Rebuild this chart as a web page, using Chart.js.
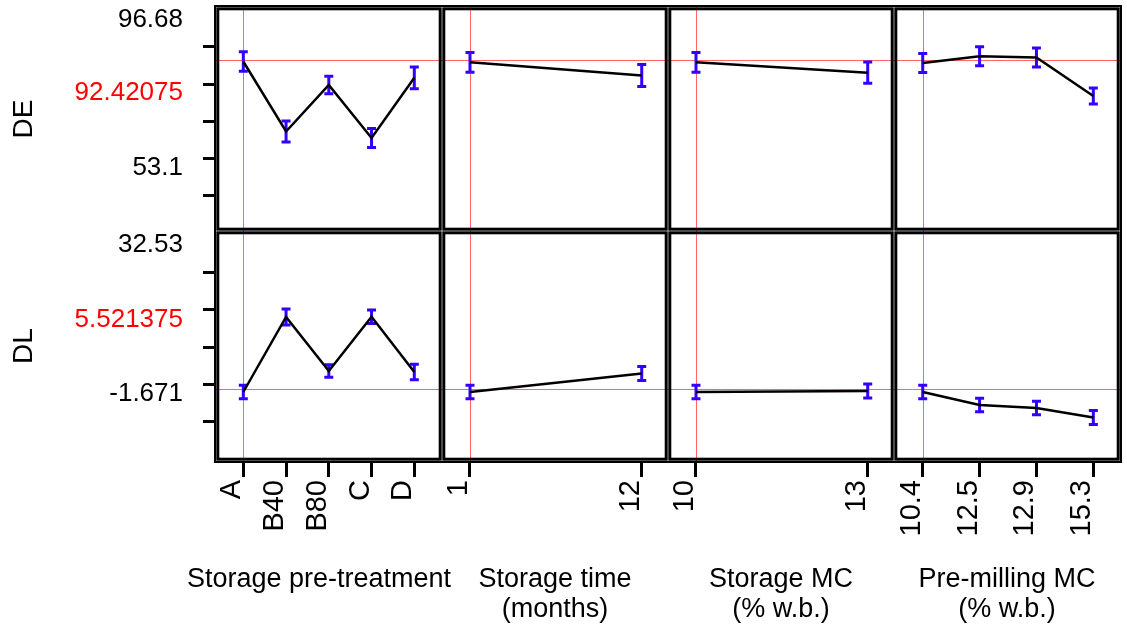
<!DOCTYPE html>
<html>
<head>
<meta charset="utf-8">
<script src="https://cdn.jsdelivr.net/npm/chart.js@4.4.0/dist/chart.umd.min.js"></script>
<style>
  html, body { margin: 0; padding: 0; background: #fff; }
</style>
</head>
<body>
<canvas id="profiler" width="1127" height="630"></canvas>
<script>
// factor levels (x tick labels)
const pretreatLevels = ['A', 'B40', 'B80', 'C', 'D'];
const timeLevels = ['1', '12'];
const storageMcLevels = ['10', '13'];
const premillMcLevels = ['10.4', '12.5', '12.9', '15.3'];
// current setting of each factor (red vertical line)
const currentLevels = ['A', '1', '10', '10.4'];

const factorTitles = [
    ['Storage pre-treatment', ''],
    ['Storage time', '(months)'],
    ['Storage MC', '(% w.b.)'],
    ['Pre-milling MC', '(% w.b.)']
];

// DE: predicted value and half width of the confidence bar, per factor
const dePretreat = [91.87, 66.40, 83.32, 64.04, 85.93];
const dePretreatErr = [3.53, 3.82, 3.17, 3.46, 3.93];
const deTime = [91.58, 86.78];
const deTimeErr = [3.58, 4.00];
const deStorageMc = [91.58, 87.80];
const deStorageMcErr = [3.58, 3.87];
const dePremillMc = [91.33, 93.80, 93.33, 79.32];
const dePremillMcErr = [3.42, 3.47, 3.42, 2.95];

// DL
const dlPretreat = [4.96, 19.05, 8.90, 19.10, 8.72];
const dlPretreatErr = [1.28, 1.50, 1.18, 1.26, 1.47];
const dlTime = [4.96, 8.43];
const dlTimeErr = [1.28, 1.31];
const dlStorageMc = [4.96, 5.15];
const dlStorageMcErr = [1.28, 1.31];
const dlPremillMc = [4.96, 2.52, 1.95, 0.17];
const dlPremillMcErr = [1.28, 1.28, 1.28, 1.31];

// y axis: tick marks, printed labels and the current (red) value
const deTickMarks = [42.94, 56.40, 69.86, 83.68, 97.15];
const deLabelText = ['96.68', '92.42075', '53.1'];
const deLabelAt = [107.08, 80.41, 53.30];
const deCurrent = 92.42075;

const dlTickMarks = [-0.54, 6.46, 13.41, 20.42, 27.44];
const dlLabelText = ['32.53', '5.521375', '-1.671'];
const dlLabelAt = [32.57, 18.48, 4.58];
const dlCurrent = 5.521375;

const ERR_BLUE = '#3300ff';
const RED_LINE = '#ff6666';
const FONT = '"Liberation Sans", Arial, sans-serif';

Chart.defaults.font.family = FONT;
Chart.defaults.color = '#000';

function yAxis(title, min, max, marks, labelText, labelAt, current, redLabel, weight, stackWeight) {
    const labelMap = new Map(labelAt.map((v, i) => [v, labelText[i]]));
    return {
        type: 'linear', position: 'left', stack: 'rows', stackWeight: stackWeight, weight: weight,
        min: min, max: max, current: current,
        afterBuildTicks: s => { s.ticks = marks.concat(labelAt).sort((a, b) => a - b).map(v => ({ value: v })); },
        afterFit: s => { s.width = 216; s.paddingTop = 0; s.paddingBottom = 0; },
        ticks: {
            autoSkip: false, padding: 20, font: { size: 26 },
            color: c => labelMap.get(c.tick.value) === redLabel ? '#ff0000' : '#000',
            callback: v => labelMap.has(v) ? labelMap.get(v) : ''
        },
        grid: {
            color: 'transparent',
            tickColor: c => (c.tick && marks.includes(c.tick.value)) ? '#000' : 'transparent',
            tickLength: 13, tickWidth: 3, lineWidth: 1
        },
        border: { display: false },
        title: { display: true, text: title, font: { size: 28 }, padding: { top: 7, bottom: 0 } }
    };
}

function xAxis(levels, title, min, max, current, showTitle) {
    return {
        type: 'linear', position: 'bottom', stack: 'cols', stackWeight: 1,
        min: min, max: max, offset: false, current: levels.indexOf(current),
        afterBuildTicks: s => { s.ticks = levels.map((_, i) => ({ value: i })); },
        afterFit: s => { s.height = 169; s.paddingLeft = 0; s.paddingRight = 0; },
        ticks: {
            autoSkip: false, minRotation: 90, maxRotation: 90, padding: 3, labelOffset: -11,
            font: { size: 29 }, callback: (v, i) => levels[i]
        },
        grid: { color: 'transparent', tickColor: '#000', tickLength: 16, tickWidth: 3, lineWidth: 1 },
        border: { display: false },
        title: {
            display: showTitle, text: title, font: { size: 27, lineHeight: 1.11 },
            padding: { top: 0, bottom: 5 }
        }
    };
}

function series(values, errs, xId, yId) {
    return {
        data: values.map((v, i) => ({ x: i, y: v })),
        errors: errs, xAxisID: xId, yAxisID: yId,
        borderColor: '#000', borderWidth: 2.5, pointRadius: 0, tension: 0, fill: false
    };
}

// red cross hairs at the current settings, then the confidence bars
const profilerMarks = {
    id: 'profilerMarks',
    beforeDatasetsDraw(chart) {
        const ctx = chart.ctx;
        const a = chart.chartArea;
        ctx.save();
        ctx.strokeStyle = RED_LINE;
        ctx.lineWidth = 1;
        Object.values(chart.scales).forEach(s => {
            const px = Math.round(s.getPixelForValue(s.options.current)) + 0.5;
            ctx.beginPath();
            if (s.isHorizontal()) { ctx.moveTo(px, a.top); ctx.lineTo(px, a.bottom); }
            else { ctx.moveTo(a.left, px); ctx.lineTo(a.right, px); }
            ctx.stroke();
        });

        ctx.strokeStyle = ERR_BLUE;
        ctx.lineWidth = 3;
        chart.data.datasets.forEach(ds => {
            const xs = chart.scales[ds.xAxisID], ys = chart.scales[ds.yAxisID];
            ds.data.forEach((p, i) => {
                const x = xs.getPixelForValue(p.x);
                const top = ys.getPixelForValue(p.y + ds.errors[i]);
                const bot = ys.getPixelForValue(p.y - ds.errors[i]);
                ctx.beginPath();
                ctx.moveTo(x, top); ctx.lineTo(x, bot);
                ctx.moveTo(x - 4.5, top); ctx.lineTo(x + 4.5, top);
                ctx.moveTo(x - 4.5, bot); ctx.lineTo(x + 4.5, bot);
                ctx.stroke();
            });
        });
        ctx.restore();
    }
};

const panelFrames = {
    id: 'panelFrames',
    afterDraw(chart) {
        const ctx = chart.ctx;
        const cols = ['x1', 'x2', 'x3', 'x4'].map(id => chart.scales[id]);
        const rows = ['yDE', 'yDL'].map(id => chart.scales[id]);
        ctx.save();
        ctx.strokeStyle = '#000';
        ctx.lineWidth = 3;
        rows.forEach(r => cols.forEach(c => ctx.strokeRect(c.left + 1.8, r.top + 1.8, c.width - 3.6, r.height - 3.6)));
        const a = chart.chartArea;
        ctx.lineWidth = 2;
        ctx.strokeRect(a.left - 1, a.top - 1, a.width + 2, a.height + 2);

        // first factor title is wider than its panel: draw it unsqueezed
        const x1 = cols[0];
        ctx.fillStyle = '#000';
        ctx.font = '27px ' + FONT;
        ctx.textAlign = 'center';
        ctx.textBaseline = 'middle';
        ctx.fillText(factorTitles[0][0], (x1.left + x1.right) / 2 - 10, x1.bottom - 5 - 1.5 * 27 * 1.11);
        ctx.restore();
    }
};

new Chart(document.getElementById('profiler'), {
    type: 'line',
    data: {
        datasets: [
            series(dePretreat, dePretreatErr, 'x1', 'yDE'),
            series(deTime, deTimeErr, 'x2', 'yDE'),
            series(deStorageMc, deStorageMcErr, 'x3', 'yDE'),
            series(dePremillMc, dePremillMcErr, 'x4', 'yDE'),
            series(dlPretreat, dlPretreatErr, 'x1', 'yDL'),
            series(dlTime, dlTimeErr, 'x2', 'yDL'),
            series(dlStorageMc, dlStorageMcErr, 'x3', 'yDL'),
            series(dlPremillMc, dlPremillMcErr, 'x4', 'yDL')
        ]
    },
    options: {
        responsive: false, animation: false, devicePixelRatio: 1,
        layout: { padding: { top: 7, right: 7, left: 0, bottom: 0 } },
        plugins: { legend: { display: false }, tooltip: { enabled: false } },
        scales: {
            x1: xAxis(pretreatLevels, factorTitles[0], -0.639, 4.648, currentLevels[0], false),
            x2: xAxis(timeLevels, factorTitles[1], -0.163, 1.153, currentLevels[1], true),
            x3: xAxis(storageMcLevels, factorTitles[2], -0.163, 1.153, currentLevels[2], true),
            x4: xAxis(premillMcLevels, factorTitles[3], -0.505, 3.469, currentLevels[3], true),
            yDE: yAxis('DE', 30.2, 111.7, deTickMarks, deLabelText, deLabelAt, deCurrent, '92.42075', 1, 224),
            yDL: yAxis('DL', -8.0, 35.2, dlTickMarks, dlLabelText, dlLabelAt, dlCurrent, '5.521375', 0, 230)
        }
    },
    plugins: [profilerMarks, panelFrames]
});
</script>
</body>
</html>
